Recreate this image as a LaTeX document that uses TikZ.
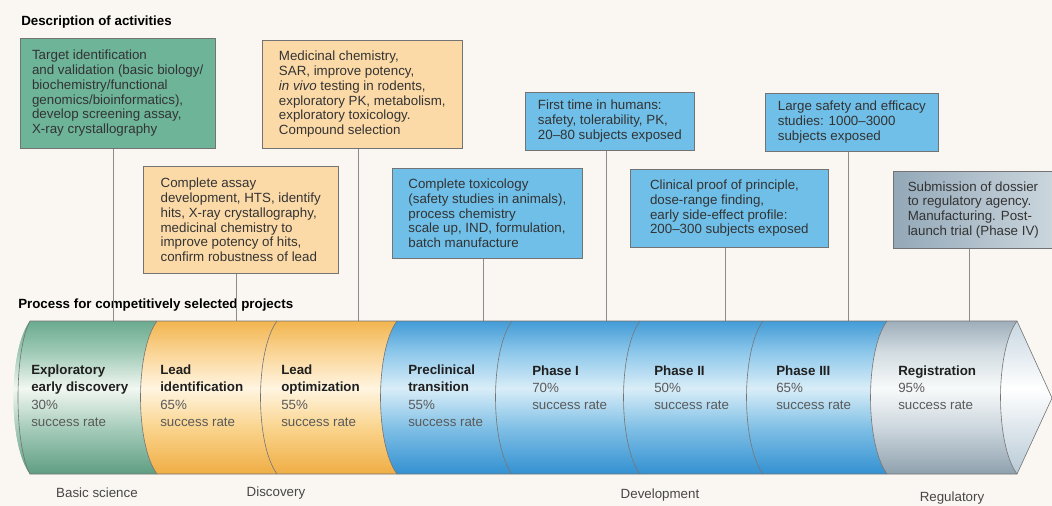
\documentclass[tikz,border=0pt]{standalone}
\usepackage{fontspec}
\setmainfont{Liberation Sans}
\usetikzlibrary{positioning}

\definecolor{paper}{HTML}{FAF6F1}
\definecolor{boxgreen}{HTML}{6DB499}
\definecolor{boxorange}{HTML}{FCDAA8}
\definecolor{boxblue}{HTML}{6FBFE8}
\definecolor{boxgreyL}{HTML}{93A8B8}
\definecolor{boxgreyR}{HTML}{CBD6DD}
\definecolor{ink}{HTML}{333333}
\definecolor{rategray}{HTML}{5A5A5A}

% cylinder shadings, bottom (25bp) to top (75bp)
\pgfdeclareverticalshading{tubegreen}{100bp}{rgb(0bp)=(0.37,0.62,0.51); rgb(25bp)=(0.37,0.62,0.51);
  rgb(40bp)=(0.65,0.80,0.73); rgb(53bp)=(0.95,0.97,0.95); rgb(65bp)=(0.62,0.79,0.71);
  rgb(75bp)=(0.42,0.67,0.56); rgb(100bp)=(0.42,0.67,0.56)}
\pgfdeclareverticalshading{tubeorange}{100bp}{rgb(0bp)=(0.94,0.68,0.27); rgb(25bp)=(0.94,0.68,0.27);
  rgb(40bp)=(0.98,0.83,0.55); rgb(53bp)=(1,0.96,0.88); rgb(65bp)=(0.98,0.83,0.58);
  rgb(75bp)=(0.95,0.71,0.31); rgb(100bp)=(0.95,0.71,0.31)}
\pgfdeclareverticalshading{tubeblue}{100bp}{rgb(0bp)=(0.2,0.57,0.82); rgb(25bp)=(0.2,0.57,0.82);
  rgb(40bp)=(0.5,0.75,0.9); rgb(53bp)=(0.85,0.93,0.97); rgb(65bp)=(0.55,0.78,0.92);
  rgb(75bp)=(0.26,0.61,0.84); rgb(100bp)=(0.26,0.61,0.84)}
\pgfdeclareverticalshading{tubegrey}{100bp}{rgb(0bp)=(0.56,0.63,0.68); rgb(25bp)=(0.56,0.63,0.68);
  rgb(40bp)=(0.8,0.84,0.87); rgb(53bp)=(0.97,0.98,0.98); rgb(65bp)=(0.82,0.86,0.88);
  rgb(75bp)=(0.62,0.68,0.73); rgb(100bp)=(0.62,0.68,0.73)}
\pgfdeclareverticalshading{tubetip}{100bp}{rgb(0bp)=(0.72,0.79,0.84); rgb(25bp)=(0.72,0.79,0.84);
  rgb(53bp)=(1,1,1); rgb(75bp)=(0.78,0.84,0.88); rgb(100bp)=(0.78,0.84,0.88)}

\newcommand{\phasename}[1]{\textcolor{black!88}{\bfseries #1}}

\begin{document}
\begin{tikzpicture}[x=0.75pt,y=-0.75pt,
    act/.style={draw=black!55, line width=0.5pt, anchor=north west, align=left,
      inner xsep=6pt, inner ysep=4pt, font=\fontsize{10}{11.1}\selectfont, text=ink},
    link/.style={draw=black!45, line width=0.5pt},
    seam/.style={draw=black!55, line width=0.45pt},
    stage/.style={anchor=north west, align=left, inner sep=0pt,
      font=\fontsize{10}{12.6}\selectfont, text=rategray},
    era/.style={font=\fontsize{10}{12}\selectfont, text=black!72},
    head/.style={anchor=west, inner sep=0pt, font=\bfseries\fontsize{10}{12}\selectfont}]

    \useasboundingbox[fill=paper] (0,0) rectangle (1052,506);
    \coordinate (top) at (0,321);

    \node[head] (hd1) at (21,22) {Description of activities};
    \node[head] (hd2) at (18,305) {Process for competitively selected projects};

    % activity boxes
    \node[act, fill=boxgreen, minimum width=146pt, minimum height=82.5pt] (t1) at (20,38)
        {Target identification\\and validation (basic biology/\\biochemistry/functional\\genomics/bioinformatics),\\develop screening assay,\\X-ray crystallography};
    \node[act, fill=boxorange, minimum width=150pt, minimum height=81pt] (t2) at (262,40)
        {Medicinal chemistry,\\SAR, improve potency,\\\textit{in vivo} testing in rodents,\\exploratory PK, metabolism,\\exploratory toxicology.\\Compound selection};
    \node[act, fill=boxorange, minimum width=146pt, minimum height=80.25pt] (t3) at (143,166)
        {Complete assay\\development, HTS, identify\\hits, X-ray crystallography,\\medicinal chemistry to\\improve potency of hits,\\confirm robustness of lead};
    \node[act, fill=boxblue, minimum width=142.5pt, minimum height=67.5pt] (t4) at (392,168)
        {Complete toxicology\\(safety studies in animals),\\process chemistry\\scale up, IND, formulation,\\batch manufacture};
    \node[act, fill=boxblue, minimum width=126.75pt, minimum height=43.5pt] (t5) at (525,92)
        {First time in humans:\\safety, tolerability, PK,\\20--80 subjects exposed};
    \node[act, fill=boxblue, minimum width=148.5pt, minimum height=58.5pt] (t6) at (630,169)
        {Clinical proof of principle,\\dose-range finding,\\early side-effect profile:\\200--300 subjects exposed};
    \node[act, fill=boxblue, minimum width=129.75pt, minimum height=43.5pt] (t7) at (765,93)
        {Large safety and efficacy\\studies: 1000--3000\\subjects exposed};
    \node[act, left color=boxgreyL, right color=boxgreyR, minimum width=120pt, minimum height=57.75pt] (t8) at (893,171)
        {Submission of dossier\\to regulatory agency.\\Manufacturing. Post-\\launch trial (Phase IV)};

    \foreach \t in {t1,t2,t3,t4,t5,t6,t7,t8}
        \draw[link] ([xshift=-3pt]\t.south) -- ([xshift=-3pt]\t.south |- top);

    % the tube, one shaded piece per stage
    \foreach \a/\b/\sh in {30/157/tubegreen, 157/277/tubeorange, 277/397/tubeorange,
                           397/512/tubeblue, 512/640/tubeblue, 640/763/tubeblue,
                           763/887/tubeblue, 887/1017/tubegrey}
        \path[shading=\sh] (\a,321) -- (\b,321) .. controls ({\b-22},351) and ({\b-22},444) .. (\b,474)
            -- (\a,474) .. controls ({\a-22},444) and ({\a-22},351) .. (\a,321);
    \path[shading=tubegreen] (30,321) .. controls (14,351) and (14,444) .. (30,474)
        .. controls (8,444) and (8,351) .. (30,321);
    \path[shading=tubetip] (1017,321) -- (1052,398) -- (1017,474)
        .. controls (995,444) and (995,351) .. (1017,321);

    \draw[seam] (1017,321) -- (30,321) .. controls (14,351) and (14,444) .. (30,474) -- (1017,474);
    \draw[seam] (1017,321) -- (1052,398) -- (1017,474);
    \foreach \b in {157,277,397,512,640,763,887,1017}
        \draw[seam] (\b,321) .. controls ({\b-22},351) and ({\b-22},444) .. (\b,474);

    % stage names and success rates
    \node[stage] (s1) at (31,365) {\phasename{Exploratory}\\\phasename{early discovery}\\[1pt]30\%\\success rate};
    \node[stage] (s2) at (160,365) {\phasename{Lead}\\\phasename{identification}\\[1pt]65\%\\success rate};
    \node[stage] (s3) at (281,365) {\phasename{Lead}\\\phasename{optimization}\\[1pt]55\%\\success rate};
    \node[stage] (s4) at (408,365) {\phasename{Preclinical}\\\phasename{transition}\\[1pt]55\%\\success rate};
    \node[stage] (s5) at (532,366) {\phasename{Phase I}\\70\%\\success rate};
    \node[stage] (s6) at (654,366) {\phasename{Phase II}\\50\%\\success rate};
    \node[stage] (s7) at (776,366) {\phasename{Phase III}\\65\%\\success rate};
    \node[stage] (s8) at (898,366) {\phasename{Registration}\\95\%\\success rate};

    \node[era] (e1) at (97,493) {Basic science};
    \node[era] (e2) at (276,493) {Discovery};
    \node[era] (e3) at (660,495) {Development};
    \node[era] (e4) at (952,498) {Regulatory};
\end{tikzpicture}
\end{document}
